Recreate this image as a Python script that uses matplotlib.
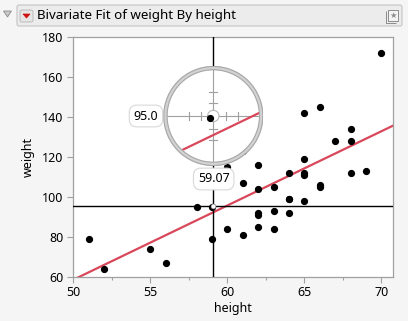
import matplotlib
matplotlib.use('Agg')
import matplotlib.pyplot as plt
from matplotlib.patches import Circle, FancyBboxPatch, Polygon, Rectangle
from matplotlib.transforms import IdentityTransform
import numpy as np

plt.rcParams['font.family'] = ['Noto Sans', 'DejaVu Sans']

# Big Class data
height = [59, 61, 55, 66, 52, 60, 61, 51, 60, 61, 56, 65, 63, 58, 59, 61, 62, 65, 63, 62,
          63, 64, 65, 64, 68, 64, 69, 62, 64, 67, 65, 66, 62, 66, 65, 60, 68, 62, 68, 70]
weight = [95, 123, 74, 145, 64, 84, 128, 79, 112, 107, 67, 98, 105, 95, 79, 81, 91, 142, 84, 85,
          93, 99, 119, 92, 112, 99, 113, 92, 112, 128, 111, 105, 104, 106, 112, 115, 128, 116, 134, 172]
fit_x = [50, 72]
intercept, slope = -127.07, 3.711
fit_y = [intercept + slope * v for v in fit_x]

cross_x, cross_y = 59.08, 95.35
label_x, label_y = '59.07', '95.0'
title = 'Bivariate Fit of weight By height'

W, H = 408, 321
BG = '#f5f5f5'
GRID = '#a0a0a0'
RED = '#d9485a'

fig = plt.figure(figsize=(W / 100, H / 100), dpi=100, facecolor=BG)


def fx(x):
    return x / W


def fy(y):
    return 1 - y / H


def disp(x, y):
    return (x, H - y)


# header bar
hdr = FancyBboxPatch(disp(17, 26), 385, 21, boxstyle='round,pad=0,rounding_size=2',
                     transform=IdentityTransform(), facecolor='#ececec', edgecolor='#c4c4c4', lw=0.8)
fig.patches.append(hdr)
fig.patches.append(Polygon([disp(3.5, 11), disp(11.5, 11), disp(7.5, 17)], closed=True,
                           transform=IdentityTransform(), facecolor='#c8c8c8', edgecolor='#8c8c8c', lw=0.6))
btn = FancyBboxPatch(disp(20, 22), 13, 12, boxstyle='round,pad=0,rounding_size=2',
                     transform=IdentityTransform(), facecolor='#e6e6e6', edgecolor='#b4b4b4', lw=0.6)
fig.patches.append(btn)
fig.patches.append(Polygon([disp(23, 14), disp(30, 14), disp(26.5, 18)], closed=True,
                           transform=IdentityTransform(), facecolor='#d01010', edgecolor='#d01010', lw=0.5))
fig.patches.append(Rectangle(disp(388, 21), 10, 11, transform=IdentityTransform(),
                             facecolor='#f4f4f4', edgecolor='#8c8c8c', lw=0.7))
fig.patches.append(Polygon([disp(386, 11), disp(386, 23), disp(396, 23)], closed=False, fill=False,
                           transform=IdentityTransform(), edgecolor='#8c8c8c', lw=0.7))
fig.text(fx(393), fy(15.5), '★', family='DejaVu Sans', fontsize=6, color='#8c8c8c',
         ha='center', va='center')
fig.text(fx(37), fy(15.5), title, fontsize=9.6, fontweight='bold', ha='left', va='center')

# main axes
x0, x1, y0, y1 = 73.3, 393.3, 36.7, 276.7
ax = fig.add_axes([fx(x0), fy(y1), fx(x1 - x0), (y1 - y0) / H])
ax.set_facecolor('white')
ax.set_xlim(50, 50 + (x1 - x0) / 15.4)
ax.set_ylim(60, 180)
ax.set_xticks([50, 55, 60, 65, 70])
ax.set_xticks([52.5, 57.5, 62.5, 67.5], minor=True)
ax.set_yticks([60, 80, 100, 120, 140, 160, 180])
for s in ax.spines.values():
    s.set_color(GRID)
    s.set_linewidth(0.9)
ax.tick_params(which='major', length=4, width=0.8, color=GRID, labelsize=9, pad=3)
ax.tick_params(which='minor', length=2.5, width=0.8, color=GRID)
ax.set_xlabel('height', fontsize=9, labelpad=2)
ax.set_ylabel('weight', fontsize=9, labelpad=5)

ax.plot(fit_x, fit_y, color=RED, lw=1.6, zorder=2)
ax.plot(height, weight, 'o', color='black', ms=4.2, zorder=3)
ax.axvline(cross_x, color='black', lw=1, zorder=4)
ax.axhline(cross_y, color='black', lw=1, zorder=4)
ax.plot([cross_x], [cross_y], 'o', ms=3.5, mfc='white', mec='#808080', mew=0.4, zorder=5)

# magnifier
cx_px, cy_px, R = 213.3, 116, 50
mag = 3
axm = fig.add_axes([fx(cx_px - R), fy(cy_px + R), fx(2 * R), 2 * R / H])
axm.set_xlim(cross_x - R / (15.4 * mag), cross_x + R / (15.4 * mag))
axm.set_ylim(cross_y - R / (2 * mag), cross_y + R / (2 * mag))
axm.axis('off')
axm.patch.set_alpha(0)
t = axm.transAxes
inner = Circle((0.5, 0.5), 0.46, transform=t, facecolor='white', edgecolor='none', zorder=0)
axm.add_patch(inner)
ln, = axm.plot(fit_x, fit_y, color=RED, lw=1.6, zorder=3)
pts, = axm.plot(height, weight, 'o', color='black', ms=4.2, zorder=4)
ln.set_clip_path(inner)
pts.set_clip_path(inner)
axm.plot([0.04, 0.96], [0.5, 0.5], color=GRID, lw=0.8, transform=t, zorder=2)
axm.plot([0.5, 0.5], [0.04, 0.96], color=GRID, lw=0.8, transform=t, zorder=2)
for d in [-0.245, -0.125, 0.125, 0.245]:
    axm.plot([0.5 + d, 0.5 + d], [0.46, 0.54], color=GRID, lw=0.8, transform=t, zorder=2)
    axm.plot([0.46, 0.54], [0.5 + d, 0.5 + d], color=GRID, lw=0.8, transform=t, zorder=2)
axm.add_patch(Circle((0.5, 0.5), 0.057, transform=t, facecolor='white', edgecolor='#b8b8b8', lw=0.8, zorder=3))
axm.add_patch(Circle((0.5, 0.5), 0.48, transform=t, facecolor='none', edgecolor='#d2d2d2', lw=3, zorder=5))
axm.add_patch(Circle((0.5, 0.5), 0.495, transform=t, facecolor='none', edgecolor='#a8a8a8', lw=0.8, zorder=6))
axm.add_patch(Circle((0.5, 0.5), 0.462, transform=t, facecolor='none', edgecolor='#a8a8a8', lw=0.8, zorder=6))

# value labels
box = dict(boxstyle='round,pad=0.35,rounding_size=0.6', facecolor='white', edgecolor='#d8d8d8', lw=0.8)
fig.text(fx(146), fy(116), label_y, fontsize=9, ha='center', va='center', bbox=box, zorder=10)
fig.text(fx(213.7), fy(179), label_x, fontsize=9, ha='center', va='center', bbox=box, zorder=10)

fig.savefig('out.png', dpi=100, facecolor=BG)
